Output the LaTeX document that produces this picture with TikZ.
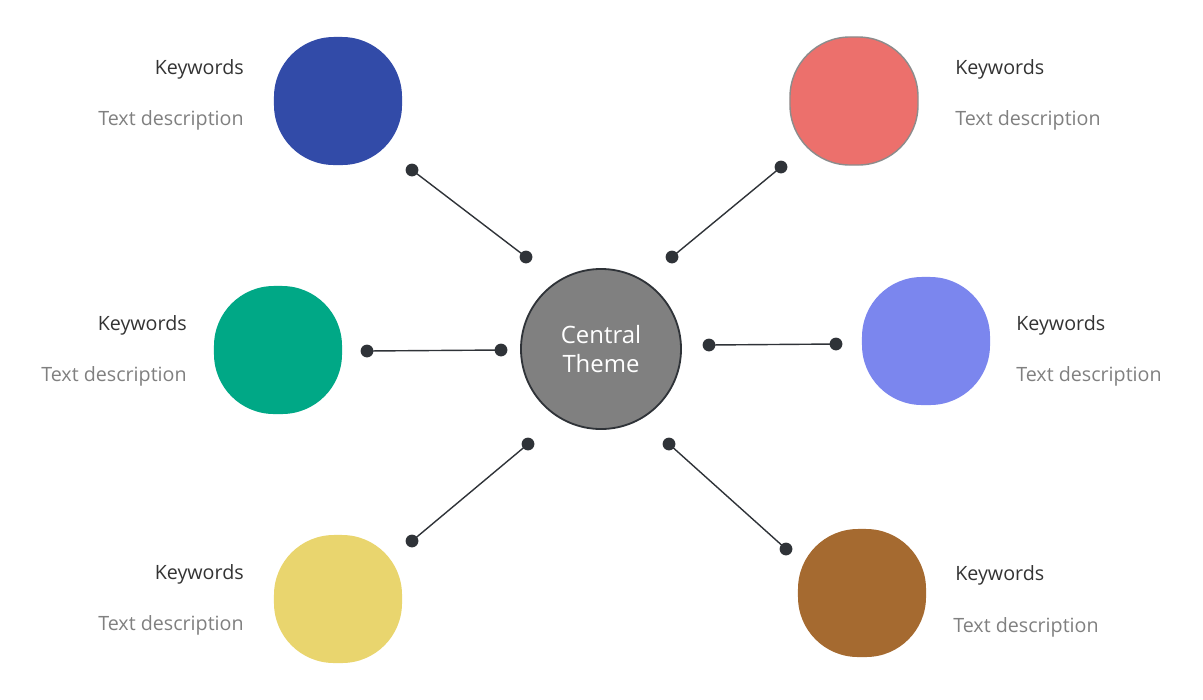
\documentclass[tikz,border=0pt]{standalone}
\usepackage{fontspec}
\setmainfont{Open Sans}
\usetikzlibrary{positioning}
\definecolor{cblue}{HTML}{324BA8}
\definecolor{cred}{HTML}{EC706C}
\definecolor{cgreen}{HTML}{00A886}
\definecolor{cpurple}{HTML}{7B86EE}
\definecolor{cyellow}{HTML}{E9D56E}
\definecolor{cbrown}{HTML}{A56A30}
\definecolor{cdark}{HTML}{2F3338}
\begin{document}
\begin{tikzpicture}[x=0.025cm, y=-0.025cm, font=\fontsize{14}{16}\selectfont]
	\tikzstyle{blob}=[rectangle, rounded corners=1.5cm, minimum size=3.2cm, inner sep=0pt]
	\tikzstyle{dot}=[circle, fill=cdark, minimum size=0.32cm, inner sep=0pt]
	\tikzstyle{link}=[draw=cdark, line width=1pt]
	\tikzstyle{key}=[text=black!80, inner sep=0pt]
	\tikzstyle{desc}=[text=black!50, inner sep=0pt]
	\useasboundingbox (0,0) rectangle (1203,699);

	\node[circle, fill=black!50, draw=cdark, line width=1.3pt, minimum size=4cm, align=center, text=white, font=\fontsize{17}{20}\selectfont] (ct) at (601,349) {Central\\Theme};

	\node[blob, fill=cblue] (b1) at (338,101) {};
	\node[blob, fill=cred, draw=black!45, line width=1pt] (b2) at (854,101) {};
	\node[blob, fill=cgreen] (b3) at (278,350) {};
	\node[blob, fill=cpurple] (b4) at (926,341) {};
	\node[blob, fill=cyellow] (b5) at (338,599) {};
	\node[blob, fill=cbrown] (b6) at (862,593) {};

	% connectors
	\node[dot] (p1) at (412,170) {}; \node[dot] (q1) at (526,257) {};
	\node[dot] (p2) at (781,167) {}; \node[dot] (q2) at (672,257) {};
	\node[dot] (p3) at (367,351) {}; \node[dot] (q3) at (501,350) {};
	\node[dot] (p4) at (836,344) {}; \node[dot] (q4) at (709,345) {};
	\node[dot] (p5) at (412,541) {}; \node[dot] (q5) at (528,444) {};
	\node[dot] (p6) at (786,549) {}; \node[dot] (q6) at (669,444) {};
	\foreach \i in {1,...,6}
		\draw[link] (p\i.center) -- (q\i.center);

	% labels
	\node[key, anchor=east] (k1) at (244,69) {Keywords};
	\node[desc, anchor=east] (d1) at (244,120) {Text description};
	\node[key, anchor=west] (k2) at (955,69) {Keywords};
	\node[desc, anchor=west] (d2) at (955,120) {Text description};
	\node[key, anchor=east] (k3) at (187,325) {Keywords};
	\node[desc, anchor=east] (d3) at (187,376) {Text description};
	\node[key, anchor=west] (k4) at (1016,325) {Keywords};
	\node[desc, anchor=west] (d4) at (1016,376) {Text description};
	\node[key, anchor=east] (k5) at (244,574) {Keywords};
	\node[desc, anchor=east] (d5) at (244,625) {Text description};
	\node[key, anchor=west] (k6) at (955,575) {Keywords};
	\node[desc, anchor=west] (d6) at (953,627) {Text description};
\end{tikzpicture}
\end{document}
